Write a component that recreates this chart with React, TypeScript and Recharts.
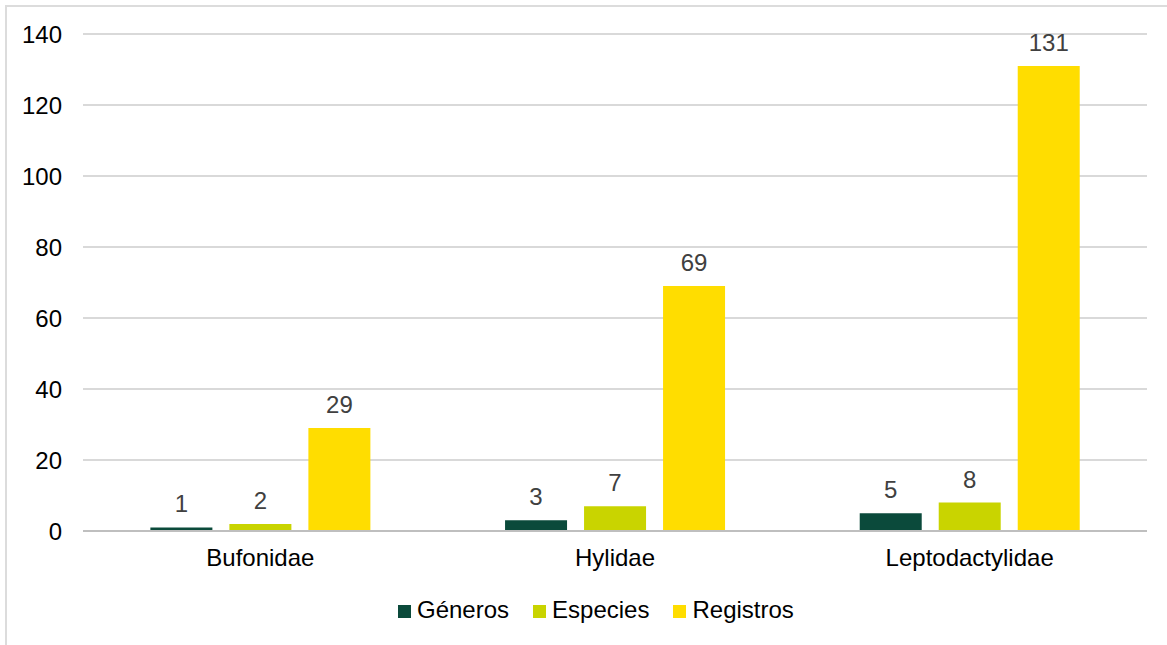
import React from "react";
import { BarChart, Bar, XAxis, YAxis, CartesianGrid, Legend, LabelList, ReferenceLine } from "recharts";

const families = ["Bufonidae", "Hylidae", "Leptodactylidae"];
const generos = [1, 3, 5];
const especies = [2, 7, 8];
const registros = [29, 69, 131];
const yTicks = [0, 20, 40, 60, 80, 100, 120, 140];

const seriesInfo = [
  { key: "generos", name: "Géneros", color: "#0B4A3B" },
  { key: "especies", name: "Especies", color: "#C9D400" },
  { key: "registros", name: "Registros", color: "#FFDD00" },
];

const data = families.map((family, i) => ({
  family,
  generos: generos[i],
  especies: especies[i],
  registros: registros[i],
}));

const FONT = "'Liberation Sans', Arial, sans-serif";
const FONT_SIZE = 24;

const LegendContent = () => (
  <div style={{ display: "flex", alignItems: "center", fontFamily: FONT, fontSize: FONT_SIZE, color: "#000" }}>
    {seriesInfo.map((s, i) => (
      <div key={s.key} style={{ display: "flex", alignItems: "center", marginRight: i < 2 ? 24 : 0 }}>
        <div style={{ width: 13, height: 13, background: s.color, marginRight: 6, marginTop: 3 }} />
        <span>{s.name}</span>
      </div>
    ))}
  </div>
);

export default function App() {
  return (
    <div style={{ position: "fixed", left: 0, top: 0, width: 1167, height: 645, background: "#fff", overflow: "hidden" }}>
      <div
        style={{
          position: "absolute",
          left: 5,
          top: 5,
          width: 1180,
          height: 660,
          border: "2px solid #dcdcdc",
          boxSizing: "border-box",
        }}
      />
      <div style={{ position: "absolute", left: 0, top: 0 }}>
        <BarChart
          width={1167}
          height={645}
          data={data}
          margin={{ top: 34, right: 20, bottom: 0, left: 0 }}
          barGap={17}
          barCategoryGap="19%"
        >
          <CartesianGrid vertical={false} stroke="#d9d9d9" strokeWidth={2} />
          <XAxis
            dataKey="family"
            axisLine={false}
            tickLine={false}
            tickSize={0}
            tickMargin={18}
            height={114}
            tick={{ fill: "#000", fontSize: FONT_SIZE, fontFamily: FONT }}
          />
          <YAxis
            domain={[0, 140]}
            ticks={yTicks}
            axisLine={false}
            tickLine={false}
            tickSize={0}
            tickMargin={21}
            width={83}
            tick={{ fill: "#000", fontSize: FONT_SIZE, fontFamily: FONT }}
          />
          <ReferenceLine y={0} stroke="#bfbfbf" strokeWidth={2} />
          {seriesInfo.map((s) => (
            <Bar key={s.key} dataKey={s.key} name={s.name} fill={s.color} isAnimationActive={false}>
              <LabelList
                dataKey={s.key}
                position="top"
                offset={15}
                fill="#404040"
                fontSize={FONT_SIZE}
                fontFamily={FONT}
              />
            </Bar>
          ))}
          <Legend
            verticalAlign="middle"
            content={<LegendContent />}
            wrapperStyle={{ position: "absolute", left: 398, top: 596, width: "auto" }}
          />
        </BarChart>
      </div>
    </div>
  );
}
